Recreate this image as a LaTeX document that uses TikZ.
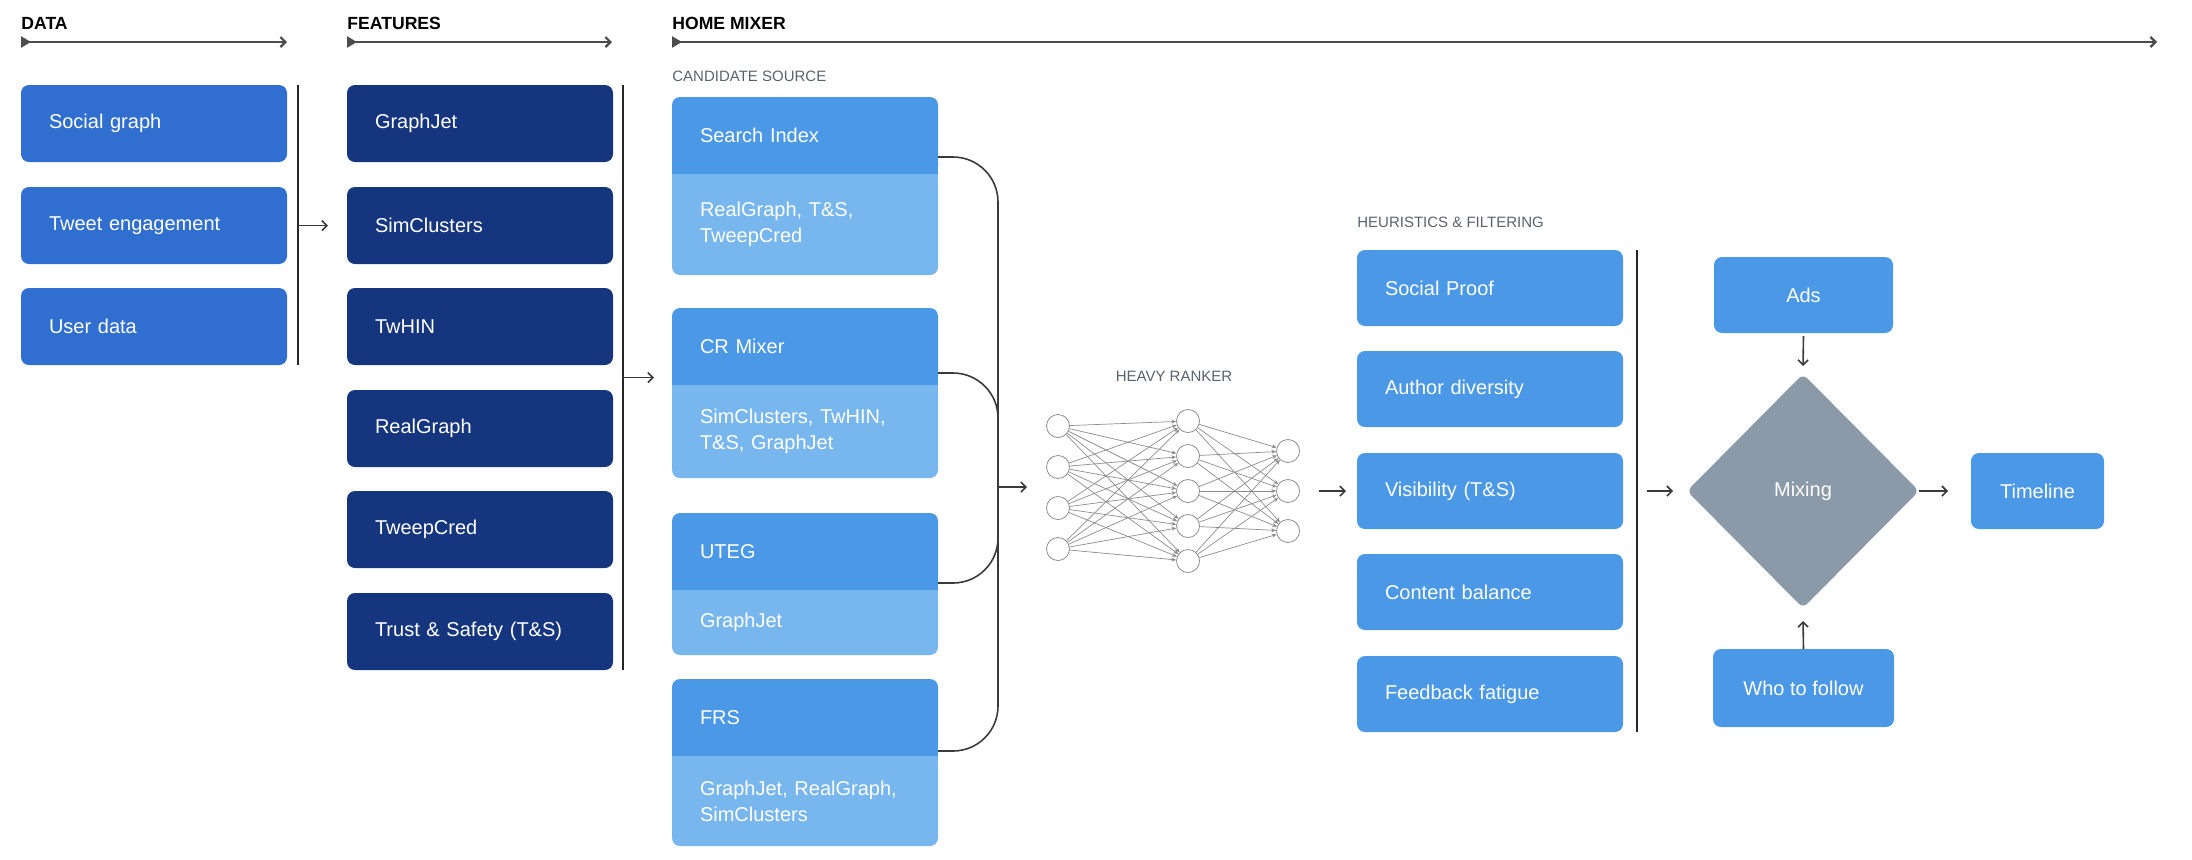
\documentclass[tikz,border=0pt]{standalone}
\usepackage{fontspec}
\setmainfont{Liberation Sans}
\usetikzlibrary{arrows.meta,shapes.geometric}

\definecolor{dataBlue}{HTML}{306FCF}
\definecolor{featNavy}{HTML}{15367F}
\definecolor{srcHead}{HTML}{4A98E6}
\definecolor{srcBody}{HTML}{78B6EE}
\definecolor{mixGray}{HTML}{8A9AA9}
\definecolor{capGray}{HTML}{59636D}
\definecolor{lineGray}{HTML}{3A3A3A}

\begin{document}
\begin{tikzpicture}[x=0.5pt,y=-0.5pt,
    box/.style={rounded corners=4pt,text=white,anchor=north west,outer sep=0pt,
      inner xsep=14pt,text width=105pt,align=left,font=\fontsize{10}{13}\selectfont},
    databox/.style={box,fill=dataBlue,minimum height=38.5pt},
    featbox/.style={box,fill=featNavy,minimum height=38.5pt},
    srchead/.style={box,fill=srcHead,minimum height=38.5pt},
    srcbody/.style={box,fill=srcBody},
    heurbox/.style={box,fill=srcHead,minimum height=38pt},
    mixbox/.style={rounded corners=4pt,fill=srcHead,text=white,outer sep=0pt,
      minimum height=38pt,font=\fontsize{10}{13}\selectfont},
    hdr/.style={anchor=west,inner sep=0pt,font=\bfseries\fontsize{8.8}{10}\selectfont},
    sublbl/.style={anchor=west,inner sep=0pt,text=capGray,font=\fontsize{7.5}{9}\selectfont},
    hdrarrow/.style={draw=black!70,line width=1.1pt,
      {Triangle[reversed,length=5pt,width=5.5pt]}-{Straight Barb[length=2.5pt,width=5pt]}},
    bar/.style={draw=black!85,line width=0.9pt},
    conn/.style={draw=lineGray,line width=0.8pt},
    arr/.style={conn,-{Straight Barb[length=2.5pt,width=5pt]}},
    neuron/.style={circle,draw=black!45,line width=0.4pt,fill=white,minimum size=11.5pt,inner sep=0pt},
    nnedge/.style={draw=black!45,line width=0.35pt,-{Stealth[length=2.4pt,width=2pt]}}]
  \useasboundingbox (0,0) rectangle (2192,859);

  % column headers
  \node[hdr] (datalbl) at (21,23) {DATA};
  \node[hdr] (featlbl) at (347,23) {FEATURES};
  \node[hdr] (homelbl) at (672,23) {HOME MIXER};
  \coordinate (dataend) at (287,42);
  \coordinate (featend) at (612,42);
  \coordinate (homeend) at (2157,42);
  \draw[hdrarrow] (datalbl.west |- dataend) -- (dataend);
  \draw[hdrarrow] (featlbl.west |- featend) -- (featend);
  \draw[hdrarrow] (homelbl.west |- homeend) -- (homeend);

  % data
  \node[databox] (sg) at (21,85) {Social graph};
  \node[databox] (te) at (21,187) {Tweet engagement};
  \node[databox] (ud) at (21,288) {User data};

  % features
  \node[featbox] (gj) at (347,85) {GraphJet};
  \node[featbox] (sc) at (347,187) {SimClusters};
  \node[featbox] (tw) at (347,288) {TwHIN};
  \node[featbox] (rg) at (347,390) {RealGraph};
  \node[featbox] (tc) at (347,491) {TweepCred};
  \node[featbox] (ts) at (347,593) {Trust \& Safety (T\&S)};

  % candidate sources
  \node[sublbl] (candlbl) at (672,76) {CANDIDATE SOURCE};
  \node[srchead] (srch) at (672,97) {Search Index};
  \node[srcbody,minimum height=50.5pt] (srchb) at (srch.south west) {RealGraph, T\&S,\\TweepCred};
  \node[srchead] (crm) at (672,308) {CR Mixer};
  \node[srcbody,minimum height=46.5pt] (crmb) at (crm.south west) {SimClusters, TwHIN,\\T\&S, GraphJet};
  \node[srchead] (uteg) at (672,513) {UTEG};
  \node[srcbody,minimum height=32.5pt] (utegb) at (uteg.south west) {GraphJet};
  \node[srchead] (frs) at (672,679) {FRS};
  \node[srcbody,minimum height=45pt] (frsb) at (frs.south west) {GraphJet, RealGraph,\\SimClusters};
  \foreach \nm in {srch,crm,uteg,frs}{
    \fill[srcHead] ([yshift=4pt]\nm.south west) rectangle (\nm.south east);
    \fill[srcBody] (\nm b.north west) rectangle ([yshift=-4pt]\nm b.north east);
  }

  % heuristics
  \node[sublbl] (heurlbl) at (1357,222) {HEURISTICS \& FILTERING};
  \node[heurbox] (sp) at (1357,250) {Social Proof};
  \node[heurbox] (ad) at (1357,351) {Author diversity};
  \node[heurbox] (vis) at (1357,453) {Visibility (T\&S)};
  \node[heurbox] (cb) at (1357,554) {Content balance};
  \node[heurbox] (ff) at (1357,656) {Feedback fatigue};

  % mixing
  \node[diamond,fill=mixGray,text=white,rounded corners=3pt,inner sep=0pt,outer sep=0pt,
    minimum width=116pt,minimum height=117pt,font=\fontsize{10}{13}\selectfont] (mix) at (1803,491) {Mixing};
  \node[mixbox,minimum width=89.5pt] (ads) at (1803.5,295) {Ads};
  \node[mixbox,minimum width=90.5pt,minimum height=39pt] (wtf) at (1803.5,688) {Who to follow};
  \node[mixbox,minimum width=66.5pt] (tl) at (2037.5,491) {Timeline};

  % heavy ranker
  \node[sublbl,anchor=center] (hrlbl) at (1174,376) {HEAVY RANKER};
  \foreach \y [count=\i] in {426,467,508,549} \node[neuron] (in\i) at (1058,\y) {};
  \foreach \y [count=\i] in {421,456,491,526,561} \node[neuron] (hid\i) at (1188,\y) {};
  \foreach \y [count=\i] in {451,491,531} \node[neuron] (out\i) at (1288,\y) {};
  \foreach \i in {1,...,4} \foreach \j in {1,...,5} \draw[nnedge] (in\i) -- (hid\j);
  \foreach \i in {1,...,5} \foreach \j in {1,...,3} \draw[nnedge] (hid\i) -- (out\j);

  % brackets and arrows
  \draw[bar] ([xshift=5.5pt]sg.north east) coordinate (dtop) -- ([xshift=5.5pt]ud.south east) coordinate (dbot);
  \draw[arr] (dtop |- te.east) -- ([xshift=-9.5pt]sc.west);
  \draw[bar] ([xshift=5pt]gj.north east) coordinate (ftop) -- ([xshift=5pt]ts.south east) coordinate (fbot);
  \path (ftop) -- (fbot) coordinate[midway] (fmid);
  \draw[arr] (fmid) -- ([xshift=-9pt]fmid -| srch.west);

  \coordinate (cbar) at ([xshift=30pt]srch.south east);
  \coordinate (nnin) at (1027,487);
  \coordinate (srchout) at ([yshift=8.5pt]srch.south east);
  \coordinate (crmout) at ([yshift=6pt]crm.south east);
  \coordinate (utegout) at ([yshift=3.5pt]uteg.south east);
  \coordinate (frsout) at ([yshift=2.5pt]frs.south east);
  \draw[conn,rounded corners=22.5pt] (srchout) -- (srchout -| cbar) -- (frsout -| cbar) -- (frsout);
  \draw[conn,rounded corners=22.5pt] (crmout) -- (crmout -| cbar) -- (cbar |- nnin);
  \draw[conn,rounded corners=22.5pt] (utegout) -- (utegout -| cbar) -- (cbar |- nnin);
  \draw[arr] (cbar |- nnin) -- (nnin);

  \draw[arr] ([xshift=9.5pt]out2.east) -- ([xshift=-5.5pt]vis.west);
  \draw[bar] ([xshift=7pt]sp.north east) coordinate (htop) -- ([xshift=7pt]ff.south east) coordinate (hbot);
  \draw[arr] ([xshift=5pt]htop |- mix.west) -- ([xshift=-7pt]mix.west);
  \draw[arr] ([yshift=-1.5pt]ads.south) -- ([yshift=4pt]mix.north);
  \draw[arr] (wtf.north) -- ([yshift=-6.5pt]mix.south);
  \draw[arr] (mix.east) -- ([xshift=-11.5pt]tl.west);
\end{tikzpicture}
\end{document}
